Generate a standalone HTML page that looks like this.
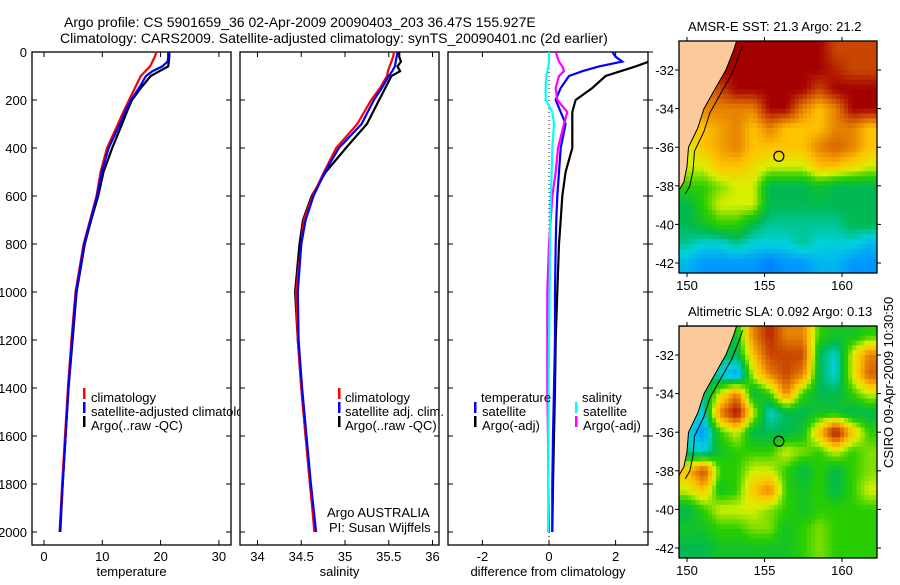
<!DOCTYPE html>
<html><head><meta charset="utf-8"><style>
body{margin:0;background:#fff}
svg text{font-family:"Liberation Sans",sans-serif;font-size:13px;fill:#000}
svg text.big{font-size:14px}
</style></head><body>
<svg id="s" width="900" height="580" viewBox="0 0 900 580" xmlns="http://www.w3.org/2000/svg">
<text class="big" x="64" y="27">Argo profile: CS 5901659_36 02-Apr-2009 20090403_203 36.47S 155.927E</text>
<text class="big" x="60" y="43">Climatology: CARS2009. Satellite-adjusted climatology: synTS_20090401.nc (2d earlier)</text>
<text x="688" y="31">AMSR-E SST: 21.3 Argo: 21.2</text>
<text x="688" y="316">Altimetric SLA: 0.092 Argo: 0.13</text>
<text transform="translate(893,468) rotate(-90)">CSIRO 09-Apr-2009 10:30:50</text>
</svg>
<script>
const depths=[0,20,40,60,80,100,150,200,250,300,400,500,600,700,800,1000,1200,1400,1600,1800,2000];
const tClim=[19.3,19.0,18.6,18.2,17.4,16.6,15.6,14.6,13.6,12.7,10.8,9.7,9.0,7.9,6.8,5.4,4.7,4.1,3.6,3.1,2.7];
const tSat=[21.3,21.3,21.2,20.3,18.6,17.5,16.3,14.9,13.9,13.0,11.1,9.9,9.1,8.0,6.9,5.5,4.8,4.2,3.7,3.2,2.7];
const tArgo=[21.5,21.5,21.4,21.3,19.8,18.3,16.6,15.1,14.2,13.4,11.7,10.2,9.3,8.1,7.0,5.6,4.9,4.2,3.7,3.2,2.8];
const sClim=[35.56,35.55,35.53,35.51,35.49,35.48,35.40,35.30,35.22,35.14,34.90,34.76,34.63,34.53,34.50,34.44,34.46,34.50,34.55,34.60,34.65];
const sSat=[35.60,35.59,35.58,35.57,35.54,35.50,35.42,35.33,35.26,35.19,34.93,34.77,34.64,34.55,34.50,34.46,34.47,34.51,34.56,34.61,34.67];
const sArgo=[35.62,35.62,35.64,35.60,35.63,35.53,35.46,35.39,35.32,35.25,35.01,34.78,34.62,34.52,34.48,34.43,34.46,34.50,34.55,34.60,34.66];
const dTSat=[1.9,2.0,2.2,1.5,1.0,0.6,0.35,0.2,0.35,0.5,0.35,0.3,0.25,0.22,0.2,0.18,0.18,0.15,0.12,0.1,0.1];
const dTArgo=[3.2,3.2,3.0,2.6,2.15,1.7,1.3,0.8,0.7,0.7,0.7,0.5,0.4,0.35,0.3,0.25,0.2,0.18,0.15,0.12,0.1];
const dSSat=[0,0,0,-0.02,-0.05,-0.08,-0.1,-0.1,0.1,0.15,0.1,0.08,0.05,0.04,0.03,0.02,0.0,-0.01,-0.02,-0.02,-0.03];
const dSArgo=[0.2,0.25,0.3,0.4,0.45,0.3,0.2,0.25,0.55,0.45,0.27,0.2,0.1,0.05,0.0,-0.05,-0.05,-0.05,-0.03,-0.02,0.0];
const depthTicks=[0,200,400,600,800,1000,1200,1400,1600,1800,2000];
const tTicks=[0,10,20,30], sTicks=[34,34.5,35,35.5,36], dTicks=[-2,0,2];
const sstGrid=[
[10,10,10,10,10,10,10,10,10,9,9,9],
[10,10,10,10,10,10,10,10,10,9.5,9,9],
[8,8,9,10,10,10,10,10,9,10,10,10],
[7,8,8,8,8,10,10,8,7,8,10,10],
[7,7,7.5,8,7,8,7,7,7,8,8,7],
[6,7,7.5,8,7,7,7,7,8,8.5,8,7],
[6,6,7,7,6.5,6,6,6,7,7,6.5,6],
[5,5,5.5,6,6,4,4,4,4.5,4,4,4],
[4,5,6,6,6,4,4,4,4,4,4,4],
[4,4.5,5,5,4,3.5,3.5,3.5,3.5,3.5,4,4],
[3.5,3,3,3.5,3,3,3,3.5,3,3,3,2.5],
[2.5,2,2,2,2,1.5,2,2,2.5,2.5,2,2]];
const slaGrid=[
[4,4,4,4.5,8,9.5,8,8,5,4.5,4.5,5],
[4,4,4,4,7,9,9,9,4,3,6,8],
[4,4,3,2,6,8,9,8,4,3,6,8.5],
[4,3.5,6,8,4,5,8,5,4,4,5,6],
[3.5,3,8,10,6,3,4,4,4.5,4.5,4,4],
[3,2,5,6,4,4,4,4.5,7,10,7,5],
[3.5,3,4.5,5,5,5,6,5.5,5,6,5,5.5],
[7,9,5,5,6,6,5,4,5,4,5,5.5],
[6,7,4.5,5,7,8,5,4.5,5,4,5,6],
[4,5,6,6,6,5.5,5,4.5,5,5,5,5],
[4.5,4.5,5,5,5.5,5.5,4.5,5,5.5,5,5,5],
[4,4,4.5,4.5,4.5,4.5,4.5,5,5.5,5,5,5]];
const coastLon=[153.2,153.0,152.5,151.8,151.1,150.7,150.1,150.0,149.8,149.5];
const coastLat=[-30.5,-31,-32,-33,-34,-35,-36,-37,-37.8,-38.2];
const lonTicks=[150,155,160], latTicks=[-32,-34,-36,-38,-40,-42];
const argoLon=155.927, argoLat=-36.47;

const S=document.getElementById('s'),NS='http://www.w3.org/2000/svg';
function mk(tag,at,parent){const e=document.createElementNS(NS,tag);for(const k in at)e.setAttribute(k,at[k]);(parent||S).appendChild(e);return e;}
const yD=d=>52+d*0.24;
const pTop=52,pBot=545;
function panel(x0,x1,xs,ticks,label,name,fmt){
  const g=mk('g',{});
  
  
  const r=mk('rect',{x:x0,y:pTop,width:x1-x0,height:pBot-pTop,fill:'none',stroke:'#000','stroke-width':1.3},g);
  
  
  ticks.forEach(v=>{const x=xs(v);
    mk('line',{x1:x,x2:x,y1:pBot,y2:pBot-5,stroke:'#000'},g);mk('line',{x1:x,x2:x,y1:pTop,y2:pTop+5,stroke:'#000'},g);
    const t=mk('text',{x:x,y:561,'text-anchor':'middle'},g);t.textContent=fmt?fmt(v):v;
    
    });
  depthTicks.forEach(d=>{const y=yD(d);mk('line',{x1:x0,x2:x0+5,y1:y,y2:y,stroke:'#000'},g);mk('line',{x1:x1,x2:x1-5,y1:y,y2:y,stroke:'#000'},g);});
  const t=mk('text',{x:(x0+x1)/2,y:576,'text-anchor':'middle'},g);t.textContent=label;
  
  
  return g;
}
function line(vals,xs,color,name,clip){
  const at={points:vals.map((v,i)=>xs(v).toFixed(1)+','+yD(depths[i]).toFixed(1)).join(' '),fill:'none',stroke:color,'stroke-width':2.2};
  if(clip)at['clip-path']=clip;
  const p=mk('polyline',at);
  
  
}
function txt(x,y,s,name){const t=mk('text',{x:x,y:y});t.textContent=s;
  
  }
function mark(x,y,c){mk('rect',{x:x,y:y-10,width:2.5,height:11,fill:c});}
depthTicks.forEach(d=>{const t=mk('text',{x:27,y:yD(d)+5,'text-anchor':'end'});t.textContent=d;
  
  });
const defs=mk('defs',{});
const cp=mk('clipPath',{id:'c3'},defs);mk('rect',{x:448,y:52,width:200,height:493},cp);
const cp1=mk('clipPath',{id:'c1'},defs);mk('rect',{x:0,y:0,width:240,height:580},cp1);
// panel 1
const xT=v=>44+v*5.83;
panel(32,231,xT,tTicks,'temperature','temperature-panel');
line(tArgo,xT,'#000','temp-argo-line');line(tClim,xT,'#f00','temp-climatology-line');line(tSat,xT,'#00f','temp-satellite-line');
mark(83,398,'#f00');mark(83,412,'#00f');mark(83,426,'#000');
txt(91,402,'climatology','legend-climatology');
const lt=mk('text',{x:91,y:416,'clip-path':'url(#c1)'});lt.textContent='satellite-adjusted climatology';


txt(91,430,'Argo(..raw -QC)','legend-argo');
// panel 2
const xS=v=>257.5+(v-34)*87.5;
panel(240,439,xS,sTicks,'salinity','salinity-panel');
line(sArgo,xS,'#000','sal-argo-line');line(sClim,xS,'#f00','sal-climatology-line');line(sSat,xS,'#00f','sal-satellite-line');
mark(338,398,'#f00');mark(338,412,'#00f');mark(338,426,'#000');
txt(345,402,'climatology','legend2-climatology');txt(345,416,'satellite adj. clim.','legend2-satellite');txt(345,430,'Argo(..raw -QC)','legend2-argo');
txt(327,517,'Argo AUSTRALIA','argo-australia-label');txt(329,532,'PI: Susan Wijffels','pi-label');
// panel 3
const xDf=v=>549+v*33.3;
panel(448,648,xDf,dTicks,'difference from climatology','difference-panel',v=>v<0?'-'+(-v):v);
depthTicks.forEach(d=>mk('line',{x1:648,x2:653,y1:yD(d),y2:yD(d),stroke:'#000'}));
mk('line',{x1:549,x2:549,y1:52,y2:545,stroke:'#000','stroke-dasharray':'1,3'});
line(dTArgo,xDf,'#000','diff-temp-argo-line','url(#c3)');line(dTSat,xDf,'#00f','diff-temp-satellite-line','url(#c3)');
line(dSArgo,xDf,'#f0f','diff-sal-argo-line','url(#c3)');line(dSSat,xDf,'#0ff','diff-sal-satellite-line','url(#c3)');
txt(481,402,'temperature','legend3-temperature');txt(582,402,'salinity','legend3-salinity');
mark(474,412,'#00f');mark(474,426,'#000');mark(575,412,'#0ff');mark(575,426,'#f0f');
txt(482,416,'satellite','legend3-temp-satellite');txt(482,430,'Argo(-adj)','legend3-temp-argo');
txt(583,416,'satellite','legend3-sal-satellite');txt(583,430,'Argo(-adj)','legend3-sal-argo');
// maps
const stops=[[0,[0,60,255]],[2,[0,150,255]],[3,[0,210,220]],[4,[0,185,80]],[5,[40,205,0]],[6,[215,240,0]],[7,[255,195,0]],[8,[230,130,0]],[9,[200,70,0]],[10,[165,0,0]]];
function col(v){for(let i=1;i<stops.length;i++){if(v<=stops[i][0]){const a=stops[i-1],b=stops[i],f=(v-a[0])/(b[0]-a[0]);return 'rgb('+a[1].map((c,k)=>Math.round(c+(b[1][k]-c)*f)).join(',')+')';}}return 'rgb(165,0,0)';}
function sample(grid,fr,fc){
  const R=grid.length-1,C=grid[0].length-1;
  fr=Math.max(0,Math.min(R,fr));fc=Math.max(0,Math.min(C,fc));
  const r0=Math.floor(fr),c0=Math.floor(fc),r1=Math.min(R,r0+1),c1=Math.min(C,c0+1),a=fr-r0,b=fc-c0;
  return grid[r0][c0]*(1-a)*(1-b)+grid[r0][c1]*(1-a)*b+grid[r1][c0]*a*(1-b)+grid[r1][c1]*a*b;
}
function map(y0,grid,name){
  const x0=679,x1=877,h=232;
  const lx=l=>687+(l-150)*15.5, ly=l=>y0+29+(-32-l)*19.3;
  const g=mk('g',{});
  
  
  const sub=4,nr=grid.length*sub,nc=grid[0].length*sub;
  const cw=(x1-x0)/nc,ch=h/nr;
  for(let r=0;r<nr;r++)for(let c=0;c<nc;c++){
    const v=sample(grid,(r+0.5)/sub-0.5,(c+0.5)/sub-0.5);
    const e=mk('rect',{x:(x0+c*cw).toFixed(2),y:(y0+r*ch).toFixed(2),width:(cw+0.4).toFixed(2),height:(ch+0.4).toFixed(2),fill:col(v)},g);
    
    
  }
  let pts=x0+','+y0+' ';coastLat.forEach((la,i)=>pts+=lx(coastLon[i]).toFixed(1)+','+ly(coastLat[i]).toFixed(1)+' ');
  pts+=x0+','+ly(-38.2).toFixed(1);
  const land=mk('polygon',{points:pts,fill:'#fcc99a',stroke:'#000','stroke-width':1},g);
  
  
  const iso=mk('polyline',{points:coastLat.map((la,i)=>(lx(coastLon[i])+6).toFixed(1)+','+(ly(la)+4).toFixed(1)).join(' '),fill:'none',stroke:'#000','stroke-width':1},g);
  
  
  mk('rect',{x:x0,y:y0,width:x1-x0,height:h,fill:'none',stroke:'#000','stroke-width':1.3},g);
  lonTicks.forEach(l=>{const x=lx(l);mk('line',{x1:x,x2:x,y1:y0,y2:y0-4,stroke:'#000'},g);mk('line',{x1:x,x2:x,y1:y0+h,y2:y0+h+4,stroke:'#000'},g);
    const t=mk('text',{x:x,y:y0+h+17,'text-anchor':'middle'},g);t.textContent=l;
    
    });
  latTicks.forEach(l=>{const y=ly(l);mk('line',{x1:x0,x2:x0-4,y1:y,y2:y,stroke:'#000'},g);mk('line',{x1:x1,x2:x1+4,y1:y,y2:y,stroke:'#000'},g);
    const t=mk('text',{x:x0-5,y:y+5,'text-anchor':'end'},g);t.textContent=l;
    
    });
  const c=mk('circle',{cx:lx(argoLon),cy:ly(argoLat),r:5,fill:'none',stroke:'#000','stroke-width':1.2},g);
  
  
}
map(41,sstGrid,'sst-map');
map(326,slaGrid,'sla-map');
</script>
</body></html>
